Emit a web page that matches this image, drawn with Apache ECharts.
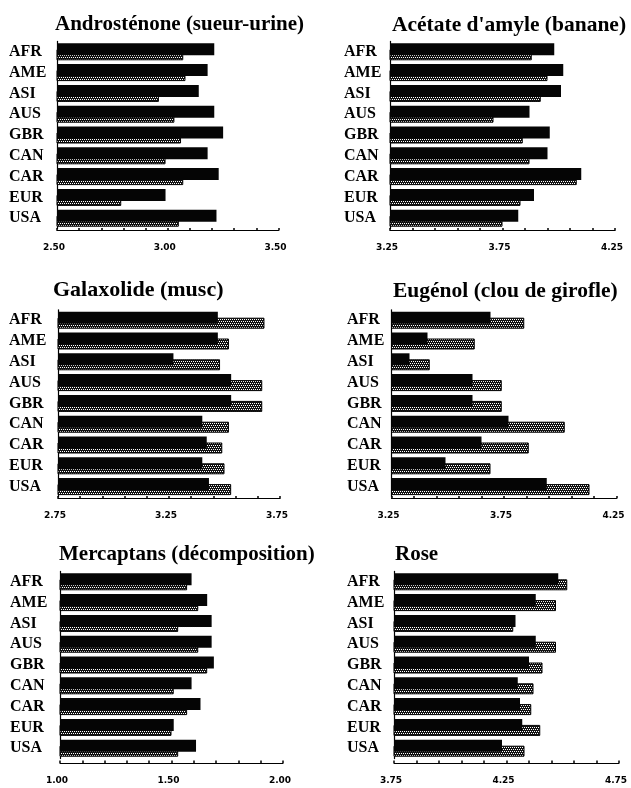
<!DOCTYPE html>
<html>
<head>
<meta charset="utf-8">
<script src="https://cdn.jsdelivr.net/npm/echarts@6/dist/echarts.min.js"></script>
<style>
html,body{margin:0;padding:0;background:#fff;}
#c{width:631px;height:788px;}
</style>
</head>
<body>
<div id="c"></div>
<script>
// ---- data ----
const categories = ['AFR','AME','ASI','AUS','GBR','CAN','CAR','EUR','USA'];

const titles = ['Androsténone (sueur-urine)', "Acétate d'amyle (banane)", 'Galaxolide (musc)',
                'Eugénol (clou de girofle)', 'Mercaptans (décomposition)', 'Rose'];

const androBlack  = [3.21, 3.18, 3.14, 3.21, 3.25, 3.18, 3.23, 2.99, 3.22];
const androDotted = [3.07, 3.08, 2.96, 3.03, 3.06, 2.99, 3.07, 2.79, 3.05];

const acetBlack  = [3.98, 4.02, 4.01, 3.87, 3.96, 3.95, 4.10, 3.89, 3.82];
const acetDotted = [3.88, 3.95, 3.92, 3.71, 3.84, 3.87, 4.08, 3.83, 3.75];

const galaBlack  = [3.47, 3.47, 3.27, 3.53, 3.53, 3.40, 3.42, 3.40, 3.43];
const galaDotted = [3.68, 3.52, 3.48, 3.67, 3.67, 3.52, 3.49, 3.50, 3.53];

const eugeBlack  = [3.69, 3.41, 3.33, 3.61, 3.61, 3.77, 3.65, 3.49, 3.94];
const eugeDotted = [3.84, 3.62, 3.42, 3.74, 3.74, 4.02, 3.86, 3.69, 4.13];

const mercBlack  = [1.59, 1.66, 1.68, 1.68, 1.69, 1.59, 1.63, 1.51, 1.61];
const mercDotted = [1.57, 1.62, 1.53, 1.62, 1.66, 1.51, 1.57, 1.50, 1.53];

const roseBlack  = [4.48, 4.38, 4.29, 4.38, 4.35, 4.30, 4.31, 4.32, 4.23];
const roseDotted = [4.52, 4.47, 4.28, 4.47, 4.41, 4.37, 4.36, 4.40, 4.33];

const axisMins = [2.50, 3.25, 2.75, 3.25, 1.00, 3.75];
const axisMaxs = [3.50, 4.25, 3.75, 4.25, 2.00, 4.75];

const blackSets  = [androBlack, acetBlack, galaBlack, eugeBlack, mercBlack, roseBlack];
const dottedSets = [androDotted, acetDotted, galaDotted, eugeDotted, mercDotted, roseDotted];

// ---- layout ----
const panels = [
  {left: 57,  width: 221.5, top: 41.4,  height: 187.2, off: 2,   titleX: 55,  titleY: 14, labelX: 9,  tSize: 21},
  {left: 390, width: 225,   top: 41.4,  height: 187.2, off: 2,   titleX: 392, titleY: 14, labelX: 344, tSize: 21.5},
  {left: 58,  width: 222,   top: 309.8, height: 187.2, off: 1.5, titleX: 53,  titleY: 279, labelX: 9,  tSize: 22},
  {left: 391.5, width: 225, top: 309.8, height: 187.2, off: 1.5, titleX: 393, titleY: 280, labelX: 347, tSize: 21.5},
  {left: 60,  width: 223,   top: 571.4, height: 187.2, off: 4.5, titleX: 59,  titleY: 544, labelX: 10, tSize: 21},
  {left: 394, width: 225,   top: 571.4, height: 187.2, off: 4.5, titleX: 395, titleY: 544, labelX: 347, tSize: 21}
];

// dotted pattern
function makePattern(){
  const cv = document.createElement('canvas');
  cv.width = 4; cv.height = 4;
  const g = cv.getContext('2d');
  g.fillStyle = '#111'; g.fillRect(0,0,4,4);
  g.fillStyle = '#fff';
  g.fillRect(1,1,1,1); g.fillRect(3,1,1,1);
  g.fillRect(0,3,1,1); g.fillRect(2,3,1,1);
  return cv;
}
const pat = makePattern();

const chart = echarts.init(document.getElementById('c'), null, {renderer: 'canvas'});

const grid = [], xAxis = [], yAxis = [], series = [], title = [];
panels.forEach((p, i) => {
  const mn = axisMins[i], mx = axisMaxs[i];
  const tickVals = [];
  for (let k = 0; k <= 10; k++) tickVals.push(+(mn + k * 0.1).toFixed(2));
  const labelVals = [mn, +((mn + mx) / 2).toFixed(2), mx];
  grid.push({left: p.left, top: p.top, width: p.width, height: p.height, containLabel: false});
  title.push({
    text: titles[i], left: p.titleX, top: p.titleY, padding: 0,
    textStyle: {fontFamily: 'Liberation Serif', fontWeight: 'bold', fontSize: p.tSize, color: '#000'}
  });
  xAxis.push({
    type: 'value', gridIndex: i, min: mn, max: mx, offset: p.off,
    axisLine: {show: true, lineStyle: {color: '#000', width: 1.2}},
    axisTick: {show: true, inside: true, length: 2.5, customValues: tickVals, lineStyle: {color: '#000', width: 1.5}},
    axisLabel: {
      show: true, customValues: labelVals, margin: 13,
      formatter: v => v.toFixed(2),
      fontFamily: 'DejaVu Sans', fontWeight: 'bold', fontSize: 9, color: '#000',
      padding: [0, 6, 0, 0]
    },
    splitLine: {show: false}
  });
  yAxis.push({
    type: 'category', gridIndex: i, data: categories, inverse: true,
    axisLine: {show: true, lineStyle: {color: '#000', width: 1.2}},
    axisTick: {show: false},
    axisLabel: {
      show: true, interval: 0, align: 'left', margin: p.left - p.labelX,
      fontFamily: 'Liberation Serif', fontWeight: 'bold', fontSize: 16, color: '#000',
      padding: [0, 0, 6, 0]
    },
    splitLine: {show: false}
  });
  series.push({
    type: 'bar', xAxisIndex: i, yAxisIndex: i, data: blackSets[i],
    barWidth: 12, barGap: '-50%', z: 3,
    itemStyle: {color: '#050505'}, silent: true, animation: false
  });
  series.push({
    type: 'bar', xAxisIndex: i, yAxisIndex: i, data: dottedSets[i],
    barWidth: 11, barGap: '-50%', z: 2,
    itemStyle: {color: {image: pat, repeat: 'repeat'}, borderColor: '#000', borderWidth: 1},
    silent: true, animation: false
  });
});

chart.setOption({
  backgroundColor: '#fff',
  animation: false,
  title, grid, xAxis, yAxis, series
});
</script>
</body>
</html>
